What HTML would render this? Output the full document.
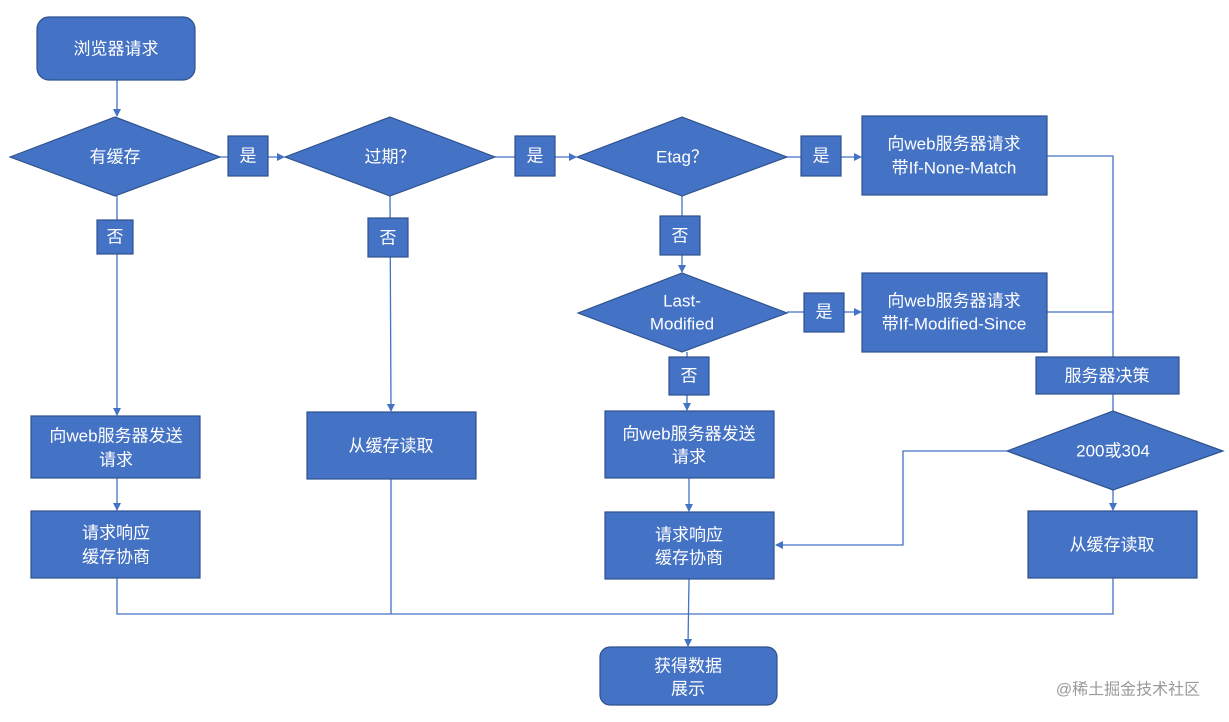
<!DOCTYPE html>
<html><head><meta charset="utf-8"><style>
html,body{margin:0;padding:0;background:#fff;}
svg{display:block;}
text{font-family:"Liberation Sans","Noto Sans CJK SC",sans-serif;font-size:17px;fill:#fff;text-anchor:middle;dominant-baseline:central;}
.s{fill:#4472C4;stroke:#2F528F;stroke-width:1.2;}
.l{stroke:#4472C4;stroke-width:1.3;fill:none;}
</style></head><body>
<svg width="1229" height="722" viewBox="0 0 1229 722">
<defs><marker id="a" markerWidth="8" markerHeight="8" refX="7" refY="4" orient="auto" markerUnits="userSpaceOnUse"><path d="M0,0 L8,4 L0,8 z" fill="#4472C4"/></marker></defs>

<!-- lines -->
<path class="l" d="M117,80 V116" marker-end="url(#a)"/>
<path class="l" d="M220,157 H284" marker-end="url(#a)"/>
<path class="l" d="M495,157 H576" marker-end="url(#a)"/>
<path class="l" d="M787,157 H861" marker-end="url(#a)"/>
<path class="l" d="M117,196 V415" marker-end="url(#a)"/>
<path class="l" d="M390,196 L391,411" marker-end="url(#a)"/>
<path class="l" d="M682,196 V272" marker-end="url(#a)"/>
<path class="l" d="M787,312 H861" marker-end="url(#a)"/>
<path class="l" d="M687,352 V410" marker-end="url(#a)"/>
<path class="l" d="M1047,156 H1113 V411"/>
<path class="l" d="M1047,312 H1113"/>
<path class="l" d="M1007,451 H903 V545 H776" marker-end="url(#a)"/>
<path class="l" d="M1113,490 V510" marker-end="url(#a)"/>
<path class="l" d="M117,478 V510" marker-end="url(#a)"/>
<path class="l" d="M689,478 V511" marker-end="url(#a)"/>
<path class="l" d="M117,578 V614 H1113 V578"/>
<path class="l" d="M391,479 V614"/>
<path class="l" d="M689,579 L688,646" marker-end="url(#a)"/>

<!-- shapes -->
<rect class="s" x="37" y="17" width="158" height="63" rx="12"/>
<text x="116" y="49">浏览器请求</text>

<polygon class="s" points="10,157 115,117 220,157 115,196"/>
<text x="115" y="157">有缓存</text>
<polygon class="s" points="285,157 390,117 495,157 390,196"/>
<text x="390" y="157">过期？</text>
<polygon class="s" points="577,157 682,117 787,157 682,196"/>
<text x="682" y="157">Etag？</text>
<polygon class="s" points="578,313 682,273 787,313 682,352"/>
<text x="682" y="301">Last-</text><text x="682" y="324">Modified</text>
<polygon class="s" points="1007,451 1113,411 1223,451 1113,490"/>
<text x="1113" y="451">200或304</text>

<rect class="s" x="228" y="136" width="40" height="40"/><text x="248" y="156">是</text>
<rect class="s" x="515" y="136" width="40" height="40"/><text x="535" y="156">是</text>
<rect class="s" x="801" y="136" width="40" height="40"/><text x="821" y="156">是</text>
<rect class="s" x="804" y="293" width="40" height="39"/><text x="824" y="312">是</text>
<rect class="s" x="97" y="220" width="36" height="34"/><text x="115" y="237">否</text>
<rect class="s" x="368" y="218" width="40" height="39"/><text x="388" y="238">否</text>
<rect class="s" x="660" y="216" width="40" height="39"/><text x="680" y="236">否</text>
<rect class="s" x="669" y="357" width="40" height="38"/><text x="689" y="376">否</text>

<rect class="s" x="862" y="116" width="185" height="79"/>
<text x="954" y="144">向web服务器请求</text><text x="954" y="168">带If-None-Match</text>
<rect class="s" x="862" y="273" width="185" height="79"/>
<text x="954" y="301">向web服务器请求</text><text x="954" y="324">带If-Modified-Since</text>
<rect class="s" x="1036" y="357" width="143" height="37"/><text x="1107" y="376">服务器决策</text>

<rect class="s" x="31" y="416" width="169" height="62"/>
<text x="116" y="436">向web服务器发送</text><text x="116" y="460">请求</text>
<rect class="s" x="307" y="412" width="169" height="67"/><text x="391" y="446">从缓存读取</text>
<rect class="s" x="605" y="411" width="169" height="67"/>
<text x="689" y="434">向web服务器发送</text><text x="689" y="457">请求</text>
<rect class="s" x="31" y="511" width="169" height="67"/>
<text x="116" y="533">请求响应</text><text x="116" y="557">缓存协商</text>
<rect class="s" x="605" y="512" width="169" height="67"/>
<text x="689" y="535">请求响应</text><text x="689" y="558">缓存协商</text>
<rect class="s" x="1028" y="511" width="169" height="67"/><text x="1112" y="545">从缓存读取</text>

<rect class="s" x="600" y="647" width="177" height="58" rx="10"/>
<text x="688" y="666">获得数据</text><text x="688" y="689">展示</text>

<text x="1128" y="690" style="fill:#999;font-size:16px">@稀土掘金技术社区</text>
</svg>
</body></html>
